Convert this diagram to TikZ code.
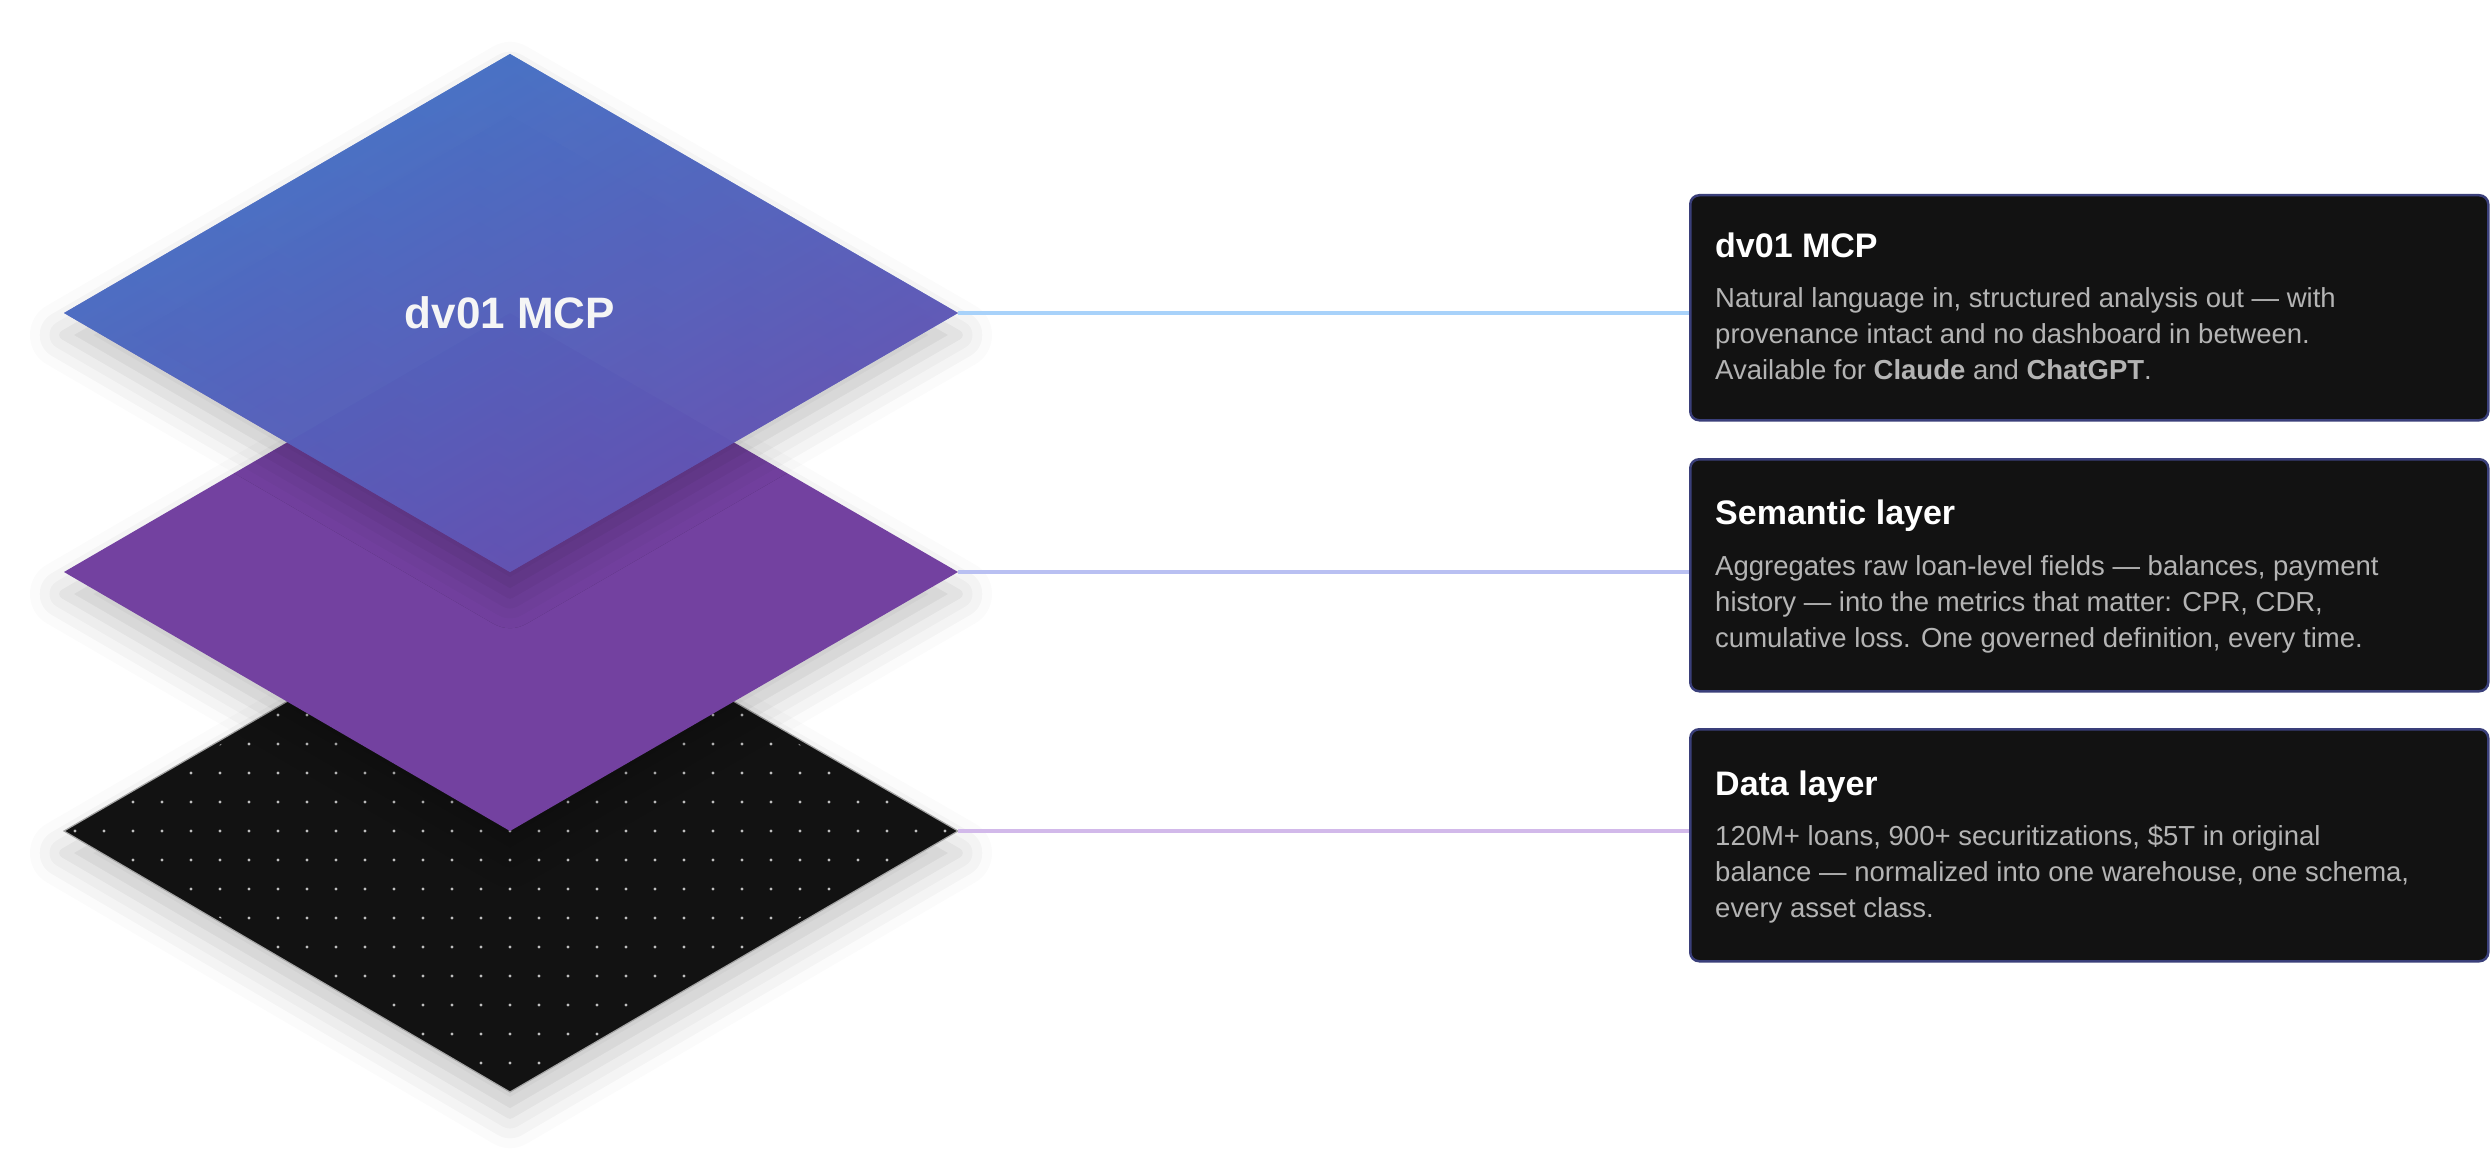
\documentclass[tikz,border=0pt]{standalone}
\usepackage{fontspec}
\setmainfont{Liberation Sans}
\usetikzlibrary{shadows.blur}
\definecolor{boxfill}{HTML}{121212}
\definecolor{boxedge}{HTML}{3A3F7A}
\definecolor{bodytxt}{HTML}{B4B4B4}
\definecolor{topA}{HTML}{3F76C8}
\definecolor{topB}{HTML}{6A4DB0}
\definecolor{midc}{HTML}{7341A0}
\definecolor{botc}{HTML}{121212}
\definecolor{lineA}{HTML}{A8D2FA}
\definecolor{lineB}{HTML}{B9C0F2}
\definecolor{lineC}{HTML}{D2B9EA}
\begin{document}
\begin{tikzpicture}[x=1pt,y=-1pt,
  card/.style={draw=boxedge,line width=2.5pt,fill=boxfill,rounded corners=9pt,minimum width=798pt,inner sep=0pt,anchor=north west},
  ttl/.style={anchor=base west,text=white,font=\fontsize{34}{40}\selectfont\bfseries,inner sep=0pt},
  body/.style={anchor=north west,text=bodytxt,font=\fontsize{27.5}{36}\selectfont,align=left,inner sep=0pt},
  conn/.style={line width=4pt},
  layershadow/.style={blur shadow={shadow xshift=0pt,shadow yshift=-22pt,shadow blur radius=34pt,shadow opacity=22}}]
\useasboundingbox (0,0) rectangle (2492,1161);
% layer vertices
\coordinate (r1) at (958,313);
\coordinate (r2) at (958,572);
\coordinate (r3) at (958,831);
% bottom layer
\path[fill=botc,draw=gray!70,line width=1.2pt,layershadow] (510,572) -- (958,831) -- (510,1092) -- (64,831) -- cycle;
\begin{scope}
\clip (510,578) -- (950,831) -- (510,1086) -- (70,831) -- cycle;
\foreach \i in {0,...,30}{\foreach \j in {-9,...,9}{
  \fill[white!75!black] ({75+29*\i},{831+29*\j}) circle (1.6pt);}}
\end{scope}
% middle layer
\path[fill=midc,layershadow] (510,313) -- (958,572) -- (510,831) -- (64,572) -- cycle;
% top layer
\path[left color=topA,right color=topB,shading angle=-30,fill opacity=0.88,layershadow] (510,54) -- (958,313) -- (510,572) -- (64,313) -- cycle;
\shade[left color=topA,right color=topB,shading angle=30,opacity=0.82] (510,54) -- (958,313) -- (510,572) -- (64,313) -- cycle;
\node[text=white!92!gray,font=\fontsize{44}{50}\selectfont\bfseries] (lbl) at (510,313) {dv01 MCP};
% cards
\node[card,minimum height=225pt] (b1) at (1689,194) {};
\node[card,minimum height=232pt] (b2) at (1689,458) {};
\node[card,minimum height=232pt] (b3) at (1689,728) {};
\node[ttl] (t1) at (1715,257) {dv01 MCP};
\node[body] (d1) at (1715,287) {Natural language in, structured analysis out — with\\provenance intact and no dashboard in between.\\Available for \textbf{Claude} and \textbf{ChatGPT}.};
\node[ttl] (t2) at (1715,524) {Semantic layer};
\node[body] (d2) at (1715,555) {Aggregates raw loan-level fields — balances, payment\\history — into the metrics that matter: CPR, CDR,\\cumulative loss. One governed definition, every time.};
\node[ttl] (t3) at (1715,795) {Data layer};
\node[body] (d3) at (1715,825) {120M+ loans, 900+ securitizations, \$5T in original\\balance — normalized into one warehouse, one schema,\\every asset class.};
% connectors
\draw[conn,lineA] (r1) -- (r1 -| b1.west);
\draw[conn,lineB] (r2) -- (r2 -| b2.west);
\draw[conn,lineC] (r3) -- (r3 -| b3.west);
\end{tikzpicture}
\end{document}
